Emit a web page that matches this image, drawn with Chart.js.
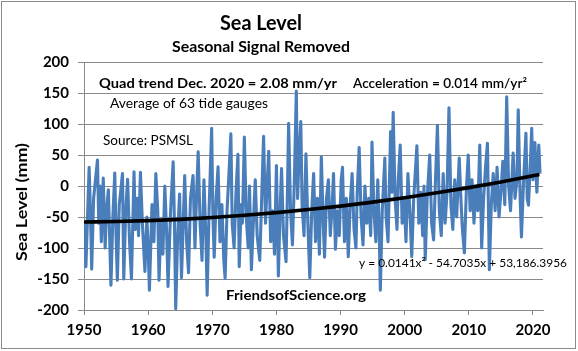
<!DOCTYPE html>
<html>
<head>
<meta charset="utf-8">
<script src="https://cdn.jsdelivr.net/npm/chart.js@4.4.1/dist/chart.umd.min.js"></script>
<style>
html,body{margin:0;padding:0;background:#fff;}
#wrap{width:578px;height:351px;position:relative;}
</style>
</head>
<body>
<div id="wrap"><canvas id="c" width="578" height="351"></canvas></div>
<script>
// ---- data ----
const decimalYears = [
  1950.0,1950.3,1950.8,1951.0,1951.2,1951.5,1952.1,1952.3,1952.5,1952.7,1953.0,1953.3,1953.5,1953.8,1954.2,1954.5,1954.8,1955.0,1955.2,1955.5,1956.0,1956.2,1956.5,1956.8,1957.1,1957.4,1957.8,1958.0,1958.3,1958.5,1958.8,1959.1,1959.5,1959.8,
  1960.0,1960.2,1960.6,1960.9,1961.2,1961.5,1961.7,1962.0,1962.3,1962.6,1962.9,1963.1,1963.5,1963.9,1964.1,1964.3,1964.6,1964.9,1965.2,1965.5,1965.7,1966.0,1966.3,1966.6,1967.0,1967.3,1967.5,1967.8,1968.1,1968.4,1968.7,1969.0,1969.2,1969.5,1969.9,
  1970.1,1970.3,1970.6,1970.9,1971.2,1971.5,1971.8,1972.0,1972.3,1972.6,1972.9,1973.1,1973.4,1973.7,1974.0,1974.2,1974.5,1974.7,1975.0,1975.3,1975.6,1975.8,1976.1,1976.4,1976.7,1977.0,1977.4,1977.7,1978.0,1978.3,1978.5,1978.8,1979.1,1979.4,1979.7,
  1980.0,1980.3,1980.6,1980.8,1981.1,1981.5,1981.7,1981.9,1982.2,1982.5,1982.8,1983.1,1983.3,1983.5,1983.8,1984.0,1984.3,1984.6,1984.9,1985.2,1985.5,1985.8,1986.1,1986.4,1986.7,1987.0,1987.3,1987.5,1987.8,1988.1,1988.4,1988.7,1988.9,1989.2,1989.5,1989.8,
  1990.1,1990.3,1990.6,1990.9,1991.2,1991.5,1991.8,1992.1,1992.4,1992.6,1992.9,1993.2,1993.5,1993.8,1994.1,1994.4,1994.7,1994.9,1995.2,1995.5,1995.8,1996.0,1996.2,1996.5,1996.9,1997.1,1997.4,1997.8,1998.0,1998.2,1998.5,1998.8,1999.0,1999.3,1999.6,1999.9,
  2000.2,2000.5,2000.8,2001.1,2001.4,2001.7,2001.9,2002.2,2002.5,2002.8,2003.0,2003.2,2003.5,2003.9,2004.2,2004.5,2004.8,2005.1,2005.4,2005.7,2006.0,2006.3,2006.6,2006.9,2007.2,2007.5,2007.8,2008.1,2008.5,2008.8,2009.0,2009.3,2009.6,2009.9,
  2010.2,2010.5,2010.8,2011.1,2011.4,2011.7,2012.0,2012.3,2012.6,2012.9,2013.2,2013.5,2013.8,2014.1,2014.4,2014.7,2015.0,2015.3,2015.6,2015.9,2016.2,2016.5,2016.9,2017.2,2017.5,2017.7,2018.0,2018.2,2018.5,2018.9,2019.1,2019.3,2019.6,2019.8,2020.0,2020.3,2020.6,2020.9,2021.1
];
const seaLevel = [
  -60,-130,30,-40,-134,-20,42,-60,0,-90,13,-100,-40,-6,-160,-50,21,-80,-152,-30,20,-150,-40,11,-90,-150,23,-70,-20,-80,22,-60,-138,-50,
  -100,-168,-30,-90,20,-40,-152,-60,-110,0,-80,-162,-40,39,-60,-198,-80,-13,-148,-50,17,-90,-140,-20,17,-100,-30,55,-60,-120,10,-80,-176,-40,93,
  -50,-115,-20,31,-90,-30,-120,-149,-40,20,84,-60,-100,-10,51,-130,-30,-60,79,-50,-100,0,-135,-60,10,-80,-120,-20,80,-60,-10,56,-90,-40,-110,
  33,-145,-30,28,-80,-122,-20,101,-40,-95,10,153,-20,40,104,-30,-80,52,-60,-148,-40,20,-90,-20,-110,47,-60,-115,-20,10,-80,-30,20,-102,-40,-80,
  10,30,-90,-20,-114,-30,20,-70,-100,-10,62,-50,-95,0,-60,-20,-80,71,-40,-90,10,-60,-168,-40,45,-50,-90,88,-10,119,-20,-70,10,66,-60,-20,
  -90,20,-40,-114,-20,30,65,-60,-10,-80,0,-119,-20,50,-60,-87,10,98,-40,-80,20,-60,-10,126,-30,-70,10,-50,45,-30,-70,-108,-10,50,
  -40,10,-60,0,-40,66,-100,-20,30,69,-135,-30,20,-40,30,-50,-10,40,-30,144,0,-40,53,-20,10,123,-20,-82,0,85,-20,-31,40,93,10,70,-10,66,20
];
const trendYears = [1950,1955,1960,1965,1970,1975,1980,1985,1990,1995,2000,2005,2010,2015,2021];
const trendLevel = [-58,-57.3,-55.9,-53.8,-50.9,-47.3,-43,-38,-32.4,-26,-18.9,-11,-2.6,6.5,18.6];
const xTickYears = [1950,1960,1970,1980,1990,2000,2010,2020];
const yTickValues = [-200,-150,-100,-50,0,50,100,150,200];

const titleText = 'Sea Level';
const subtitleText = 'Seasonal Signal Removed';
const yAxisTitle = 'Sea Level (mm)';
const notes = {
  quad: 'Quad trend Dec. 2020 = 2.08 mm/yr',
  accel: 'Acceleration = 0.014 mm/yr\u00B2',
  avg: 'Average of 63 tide gauges',
  src: 'Source: PSMSL',
  fos: 'FriendsofScience.org',
  eq: 'y = 0.0141x\u00B2 - 54.7035x + 53,186.3956'
};

// ---- chart ----
const FONT = 'Lato';
const GRID = '#8a8a8a';

function fitText(ctx, s, x, y, size, weight, width, align, rot) {
  ctx.save();
  ctx.font = weight + ' ' + size + 'px ' + FONT;
  const w = ctx.measureText(s).width;
  const sx = width ? width / w : 1;
  ctx.translate(x, y);
  if (rot) ctx.rotate(rot);
  ctx.scale(sx, 1);
  ctx.textAlign = align || 'left';
  ctx.textBaseline = rot ? 'middle' : 'alphabetic';
  ctx.fillStyle = '#000';
  ctx.fillText(s, 0, 0);
  ctx.restore();
}

const textPlugin = {
  id: 'texts',
  afterDraw(chart) {
    const ctx = chart.ctx;
    fitText(ctx, titleText, 261, 30, 21, 'bold', 82, 'center');
    fitText(ctx, subtitleText, 261, 52, 15, 'bold', 178, 'center');
    fitText(ctx, notes.quad, 99, 88, 14, 'bold', 238, 'left');
    fitText(ctx, notes.accel, 353, 88, 14, '600', 174, 'left');
    fitText(ctx, notes.avg, 110, 108, 13, 'normal', 158, 'left');
    fitText(ctx, notes.src, 103, 145, 13, 'normal', 90, 'left');
    fitText(ctx, notes.fos, 226, 300, 14, 'bold', 140, 'left');
    fitText(ctx, notes.eq, 359, 267, 12, 'normal', 208, 'left');
    fitText(ctx, yAxisTitle, 22, 202, 15, 'bold', 118, 'center', -Math.PI / 2);
    ctx.save();
    ctx.strokeStyle = '#8c8c8c';
    ctx.lineWidth = 1;
    ctx.strokeRect(1.5, 1.5, 574, 347);
    ctx.restore();
  }
};

const mainPoints = decimalYears.map((x, i) => ({ x: x, y: seaLevel[i] }));
const trendPoints = trendYears.map((x, i) => ({ x: x, y: trendLevel[i] }));

new Chart(document.getElementById('c'), {
  type: 'line',
  data: {
    datasets: [
      { data: trendPoints, borderColor: '#000', borderWidth: 3.6, pointRadius: 0,
        cubicInterpolationMode: 'monotone', fill: false },
      { data: mainPoints, borderColor: '#4a7ebb', borderWidth: 3.1, pointRadius: 0,
        tension: 0, fill: false, borderJoinStyle: 'round' }
    ]
  },
  options: {
    responsive: false,
    animation: false,
    devicePixelRatio: 1,
    layout: { padding: { left: 0, right: 35, top: 62, bottom: 0 } },
    plugins: { legend: { display: false }, tooltip: { enabled: false }, title: { display: false } },
    scales: {
      x: {
        type: 'linear', min: 1950, max: 2021.56,
        afterFit(s) { s.height = 41; },
        afterBuildTicks(s) { s.ticks = xTickYears.map(v => ({ value: v })); },
        ticks: { font: { family: FONT, size: 15, weight: 'bold' }, color: '#000', padding: 6,
                 maxRotation: 0, autoSkip: false, callback: v => String(v) },
        grid: { drawOnChartArea: false, drawTicks: true, tickLength: 5, color: GRID },
        border: { color: GRID, width: 1 }
      },
      y: {
        type: 'linear', min: -200, max: 200,
        afterFit(s) { s.width = 84; },
        afterBuildTicks(s) { s.ticks = yTickValues.map(v => ({ value: v })); },
        ticks: { font: { family: FONT, size: 15, weight: 'bold' }, color: '#000', padding: 9,
                 callback: v => String(v) },
        grid: { color: GRID, tickLength: 6, lineWidth: 1 },
        border: { color: GRID, width: 1 }
      }
    }
  },
  plugins: [textPlugin]
});
</script>
</body>
</html>
